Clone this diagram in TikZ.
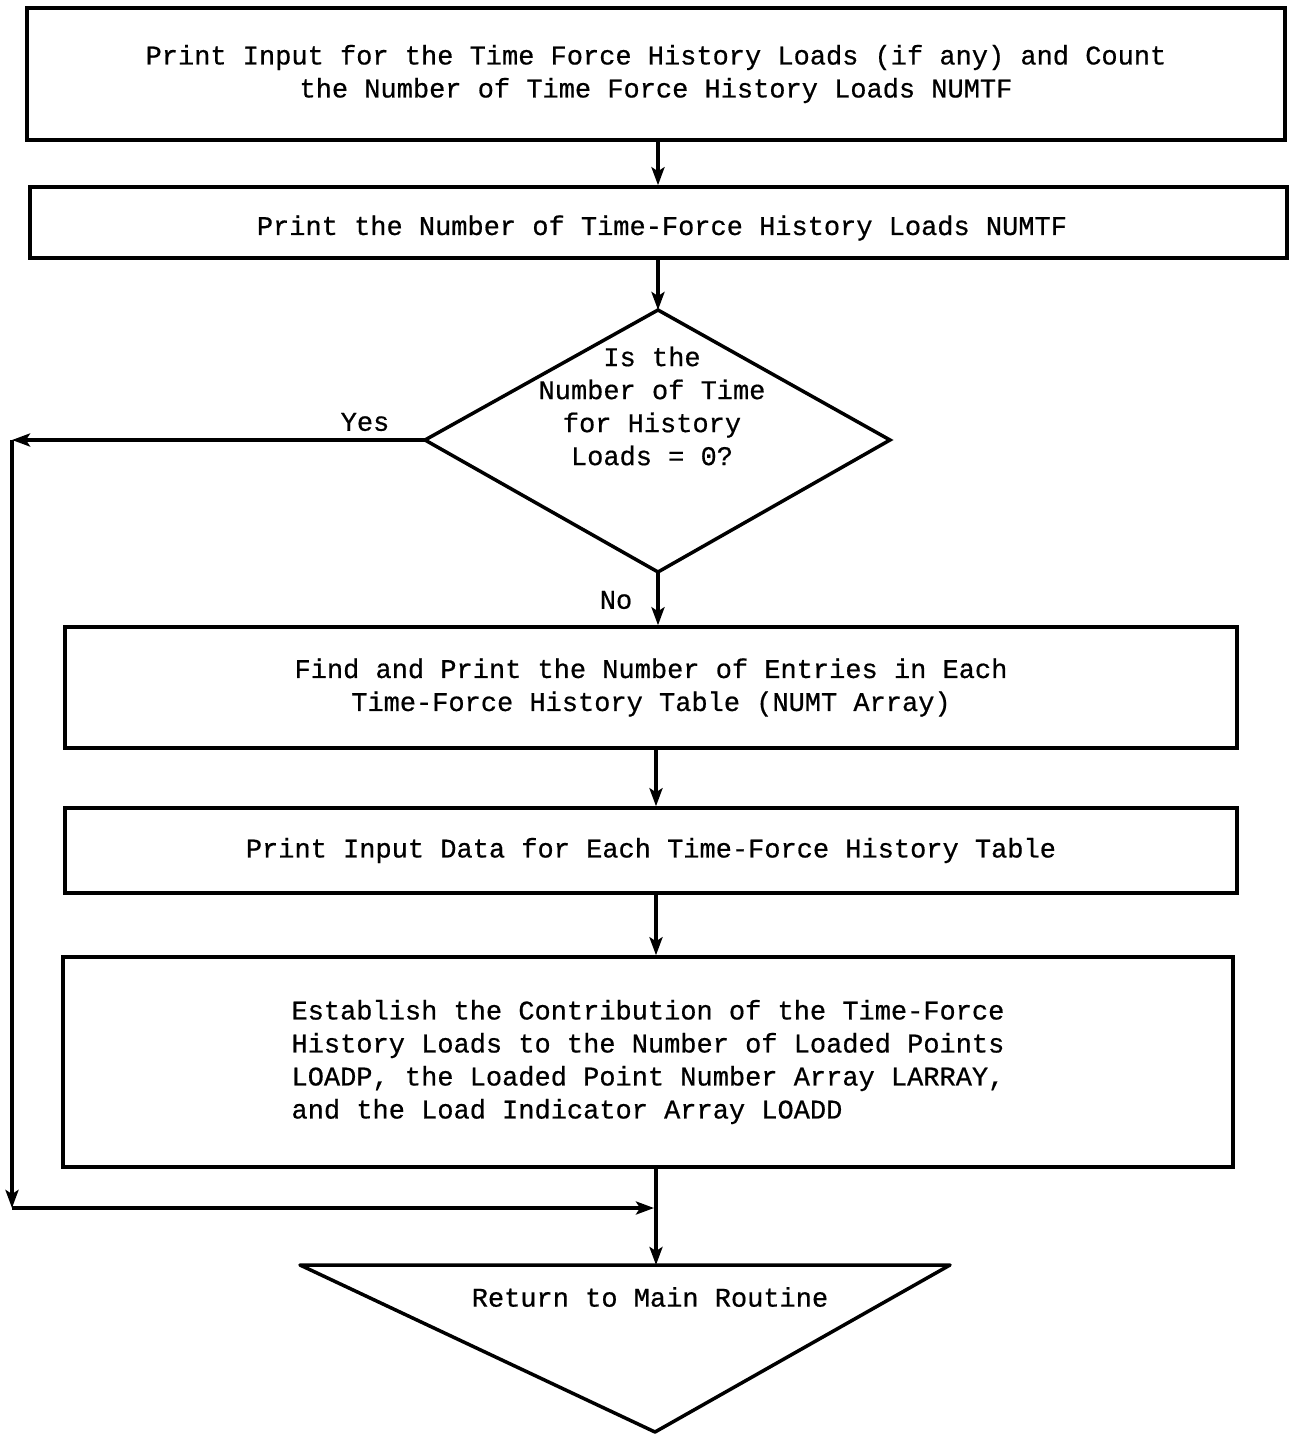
\documentclass[tikz,border=0pt]{standalone}
\usepackage{fontspec}
\setmainfont[FakeBold=0.6]{Liberation Mono}
\usetikzlibrary{arrows.meta}
\begin{document}
\begin{tikzpicture}[x=1pt,y=-1pt,
  every node/.style={font=\fontsize{27}{33}\selectfont, inner sep=0pt},
  box/.style={draw, line width=3.5pt, align=center},
  lbl/.style={font=\fontsize{27}{33}\selectfont},
  arr/.style={line width=3.5pt, -{Stealth[length=18pt,width=13pt,inset=4pt]}},
  ln/.style={line width=3.5pt}
]
\useasboundingbox (0,0) rectangle (1291,1437);

\node[box, minimum width=1258pt, minimum height=132pt] (b1) at (656,74)
  {Print Input for the Time Force History Loads (if any) and Count\\the Number of Time Force History Loads NUMTF};
\node[box, minimum width=1257pt, minimum height=71pt] (b2) at (658.5,222.5) {};
\node (b2text) at (662,228) {Print the Number of Time-Force History Loads NUMTF};

\coordinate (dtop) at (658,310);
\coordinate (dleft) at (425,440);
\coordinate (dright) at (890,440);
\coordinate (dbot) at (658,572);
\draw[ln, line join=miter] (dtop) -- (dright) -- (dbot) -- (dleft) -- cycle;
\node[align=center] (dtext) at (652,406) {Is the\\Number of Time\\for History\\Loads = 0?};

\node[box, minimum width=1172pt, minimum height=121pt] (b3) at (651,687.5)
  {Find and Print the Number of Entries in Each\\Time-Force History Table (NUMT Array)};
\node[box, minimum width=1172pt, minimum height=85pt] (b4) at (651,850.5)
  {Print Input Data for Each Time-Force History Table};
\node[box, minimum width=1170pt, minimum height=210pt, align=left] (b5) at (648,1062)
  {Establish the Contribution of the Time-Force\\History Loads to the Number of Loaded Points\\LOADP, the Loaded Point Number Array LARRAY,\\and the Load Indicator Array LOADD};

\coordinate (tl) at (300,1265);
\coordinate (tr) at (950,1265);
\coordinate (tb) at (655,1432);
\coordinate (ttop) at (656,1265);
\draw[ln, line join=round] (tl) -- (tr) -- (tb) -- cycle;
\node (ttext) at (650,1297) {Return to Main Routine};

% connectors
\draw[arr] (b1.south -| 658,0) -- (b2.north -| 658,0);
\draw[arr] (b2.south -| 658,0) -- (dtop);
\draw[arr] (dbot) -- (b3.north -| 658,0);
\draw[arr] (b3.south -| 656,0) -- (b4.north -| 656,0);
\draw[arr] (b4.south -| 656,0) -- (b5.north -| 656,0);
\draw[arr] (b5.south -| 656,0) -- (ttop);

\coordinate (c1) at (12,440);
\coordinate (c2) at (12,1208);
\coordinate (c3) at (654,1208);
\draw[arr] (dleft) -- (c1);
\draw[arr] (c1) -- (c2);
\draw[arr] (c2) -- (c3);

\node[lbl] (yes) at (365,422) {Yes};
\node[lbl] (no) at (616,600) {No};
\end{tikzpicture}
\end{document}
